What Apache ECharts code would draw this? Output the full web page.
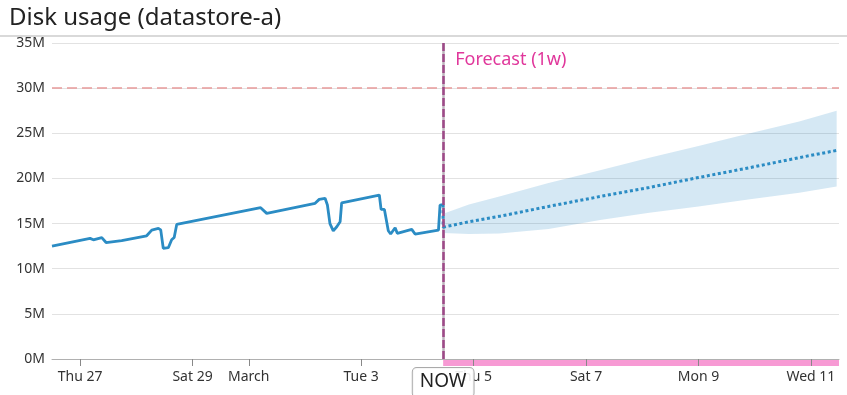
<!DOCTYPE html>
<html><head><meta charset="utf-8">
<script src="https://cdn.jsdelivr.net/npm/echarts@6/dist/echarts.min.js"></script>
<style>html,body{margin:0;padding:0;background:#fff}#c{width:847px;height:395px}</style>
</head><body><div id="c"></div>
<script>
const chartTitle = 'Disk usage (datastore-a)';
const histTimes = ['2020-02-26 12:00','2020-02-27 04:15','2020-02-27 05:40','2020-02-27 09:15','2020-02-27 11:05','2020-02-27 17:45','2020-02-28 04:25','2020-02-28 06:35','2020-02-28 09:25','2020-02-28 10:25','2020-02-28 11:30','2020-02-28 13:40','2020-02-28 15:05','2020-02-28 16:10','2020-02-28 17:15','2020-03-01 05:05','2020-03-01 07:40','2020-03-02 04:20','2020-03-02 06:05','2020-03-02 08:35','2020-03-02 09:35','2020-03-02 10:40','2020-03-02 12:05','2020-03-02 13:35','2020-03-02 15:00','2020-03-02 15:40','2020-03-03 07:45','2020-03-03 08:30','2020-03-03 09:55','2020-03-03 11:35','2020-03-03 12:35','2020-03-03 14:30','2020-03-03 15:25','2020-03-03 21:35','2020-03-03 23:00','2020-03-04 09:00','2020-03-04 09:40','2020-03-04 10:55'];
const histValues = [12.5,13.36,13.2,13.45,12.9,13.1,13.65,14.28,14.47,14.3,12.26,12.33,13.2,13.45,14.9,16.76,16.13,17.24,17.68,17.8,17.05,15.0,14.2,14.65,15.2,17.3,18.16,16.57,16.57,14.2,13.84,14.54,13.92,14.36,13.84,14.28,17.05,17.1];
const nowTime = '2020-03-04 11:00';
const forecastTimes = ['2020-03-04 11:00','2020-03-04 22:00','2020-03-05 11:00','2020-03-06 08:00','2020-03-07 06:00','2020-03-08 03:00','2020-03-09 00:00','2020-03-09 22:00','2020-03-10 19:00','2020-03-11 11:00'];
const forecastMean  = [14.6,15.2,15.8,16.9,18.0,19.0,20.1,21.2,22.3,23.1];
const forecastLower = [13.95,13.85,13.9,14.4,15.4,16.2,16.9,17.7,18.4,19.1];
const forecastUpper = [16.1,17.1,18.0,19.5,20.9,22.3,23.6,25.0,26.3,27.5];
const thresholdValue = 30;
const forecastLabel = 'Forecast (1w)';
const nowLabel = 'NOW';
const xMin = '2020-02-26 12:00';
const xMax = '2020-03-11 12:00';
const xTickTimes = ['2020-02-27 00:00','2020-02-29 00:00','2020-03-01 00:00','2020-03-03 00:00','2020-03-05 00:00','2020-03-07 00:00','2020-03-09 00:00','2020-03-11 00:00'];
const xTickLabels = ['Thu 27','Sat 29','March','Tue 3','Thu 5','Sat 7','Mon 9','Wed 11'];
const yMin = 0, yMax = 35, yStep = 5;

function t(s){const [d,h]=s.split(' ');const [Y,M,D]=d.split('-').map(Number);const [hh,mm]=h.split(':').map(Number);return Date.UTC(Y,M-1,D,hh,mm);}

const tickVals = xTickTimes.map(t);
const labelMap = {};
tickVals.forEach((v,i)=>labelMap[v]=xTickLabels[i]);
const FONT = 'Noto Sans';
const BLUE = '#2b8cc4';

const histData = histTimes.map((s,i)=>[t(s), histValues[i]]);
const meanData = [[t(histTimes[histTimes.length-1]), histValues[histValues.length-1]]].concat(forecastTimes.map((s,i)=>[t(s), forecastMean[i]]));
const bandData = forecastTimes.map((s,i)=>[t(s), forecastLower[i], forecastUpper[i]]);

const chart = echarts.init(document.getElementById('c'), null, {renderer:'canvas'});
chart.setOption({
  animation:false,
  textStyle:{fontFamily:FONT},
  title:{text:chartTitle,left:9,top:6,padding:0,textStyle:{fontFamily:FONT,fontSize:24,fontWeight:'normal',color:'#222'}},
  graphic:[{type:'line',shape:{x1:0,y1:36,x2:847,y2:36},style:{stroke:'#d9d9d9',lineWidth:2},silent:true}],
  grid:[{left:52,right:8,top:43,bottom:36},{left:52,right:8,top:359,height:7}],
  xAxis:[{
    type:'value',gridIndex:0,min:t(xMin),max:t(xMax),z:10,
    axisLine:{show:true,lineStyle:{color:'#b0b0b0',width:1}},
    axisTick:{show:true,length:7,lineStyle:{color:'#888'},customValues:tickVals},
    axisLabel:{customValues:tickVals,formatter:v=>labelMap[v]||'',fontSize:14,color:'#333',margin:11,fontFamily:FONT,hideOverlap:false},
    splitLine:{show:false}
  },{
    type:'value',gridIndex:1,min:t(xMin),max:t(xMax),show:false
  }],
  yAxis:[{
    type:'value',gridIndex:0,min:yMin,max:yMax,interval:yStep,
    axisLine:{show:false},axisTick:{show:false},
    axisLabel:{formatter:v=>v+'M',fontSize:14,color:'#333',margin:7,fontFamily:FONT},
    splitLine:{lineStyle:{color:'#e2e2e2',width:1}}
  },{
    type:'value',gridIndex:1,min:0,max:1,show:false
  }],
  series:[
    {type:'line',xAxisIndex:1,yAxisIndex:1,data:[[t(nowTime),1],[t(xMax),1]],symbol:'none',lineStyle:{width:0},areaStyle:{color:'#f79ad4',opacity:1},z:1,silent:true},
    {type:'custom',name:'band',data:bandData,encode:{x:0,y:[1,2]},z:2,silent:true,
      renderItem:function(params, api){
        if (params.dataIndex !== 0) return null;
        const up = bandData.map(d=>api.coord([d[0], d[2]]));
        const lo = bandData.map(d=>api.coord([d[0], d[1]])).reverse();
        return {type:'polygon',shape:{points:up.concat(lo)},style:{fill:'rgba(46,140,200,0.2)'}};
      },
      markLine:{silent:true,z:3,symbol:'none',label:{show:false},lineStyle:{type:'solid',color:'#bdb3bc',width:2.5},data:[{xAxis:t(nowTime)}]}
    },
    {type:'line',name:'forecast',data:meanData,symbol:'none',lineStyle:{color:BLUE,width:3,type:[3,2.6]},z:3,silent:true,
      markArea:{silent:true,itemStyle:{color:'rgba(0,0,0,0)'},label:{show:true,position:'insideTopLeft',offset:[7,3],color:'#e0379b',fontSize:18,fontFamily:FONT},
        data:[[{name:forecastLabel,xAxis:t(nowTime)},{xAxis:t(xMax)}]]}
    },
    {type:'line',name:'usage',data:histData,symbol:'none',lineStyle:{color:BLUE,width:2.8},z:20,silent:true,
      markLine:{silent:true,z:30,symbol:'none',data:[
        {yAxis:thresholdValue,label:{show:false},lineStyle:{type:[10,5],color:'#e89a9a',width:1.5}},
        {xAxis:t(nowTime),lineStyle:{type:[8,3],color:'#9e4a88',width:2.5},
          label:{show:true,position:'start',formatter:nowLabel,distance:9,fontSize:19,color:'#222',fontFamily:FONT,
            backgroundColor:'rgba(255,255,255,0.9)',borderColor:'#aaa',borderWidth:1,borderRadius:4,padding:[4,7,6,7]}}
      ]}
    }
  ]
});
</script></body></html>
